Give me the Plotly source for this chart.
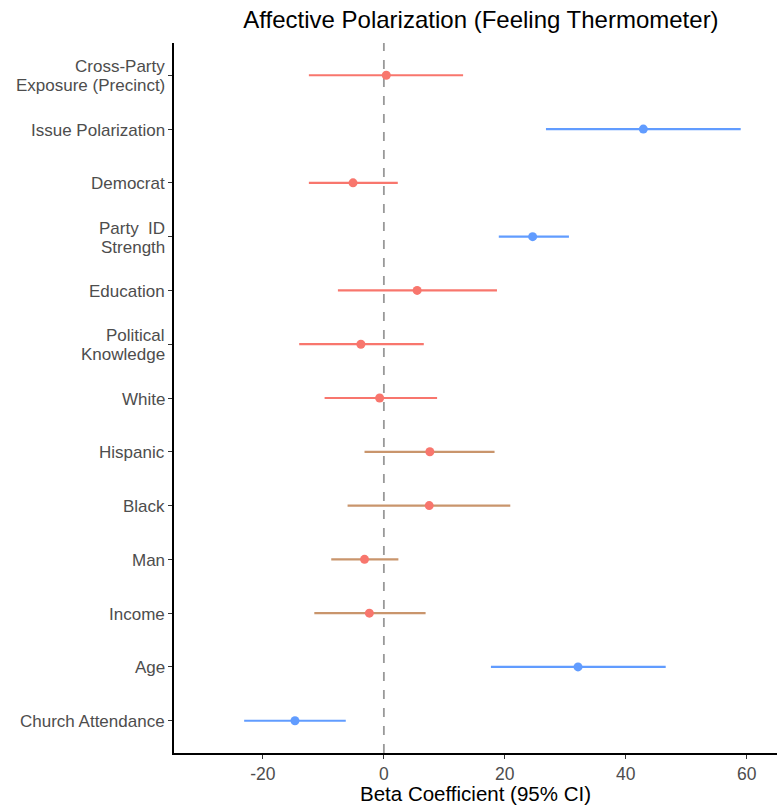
import plotly.graph_objects as go

categories = ["Church Attendance", "Age", "Income", "Man", "Black", "Hispanic", "White",
              "Political<br>Knowledge", "Education", "Party  ID<br>Strength", "Democrat",
              "Issue Polarization", "Cross-Party<br>Exposure (Precinct)"]
estimate = [-14.7, 32.1, -2.4, -3.2, 7.5, 7.6, -0.7, -3.8, 5.5, 24.6, -5.1, 42.9, 0.4]
ci_low = [-23.1, 17.7, -11.5, -8.7, -6.0, -3.2, -9.8, -14.0, -7.6, 19.0, -12.4, 26.8, -12.4]
ci_high = [-6.3, 46.6, 6.9, 2.4, 20.9, 18.3, 8.8, 6.6, 18.7, 30.6, 2.3, 59.0, 13.1]
group = ["blue", "blue", "brown", "brown", "brown", "brown", "red",
         "red", "red", "blue", "red", "blue", "red"]
x_ticks = [-20, 0, 20, 40, 60]
x_tick_labels = ["-20", "0", "20", "40", "60"]

line_colors = {"red": "#F8766D", "blue": "#619CFF", "brown": "#C9956C"}
point_colors = {"red": "#F8766D", "blue": "#619CFF", "brown": "#F8766D"}

FONT = "Liberation Sans, Arial, sans-serif"
fig = go.Figure()
ypos = list(range(1, len(categories) + 1))

# zero reference line
fig.add_trace(go.Scatter(x=[0, 0], y=[0.4, 13.6], mode="lines",
                         line=dict(color="#999999", width=1.8, dash="dash"),
                         showlegend=False, hoverinfo="skip"))

for i, cat in enumerate(categories):
    g = group[i]
    fig.add_trace(go.Scatter(x=[ci_low[i], ci_high[i]], y=[ypos[i], ypos[i]], mode="lines",
                             line=dict(color=line_colors[g], width=2.2),
                             showlegend=False, hoverinfo="skip"))
    fig.add_trace(go.Scatter(x=[estimate[i]], y=[ypos[i]], mode="markers",
                             marker=dict(color=point_colors[g], size=9),
                             showlegend=False))

# y tick labels as annotations (tighter line spacing than plotly's default)
annotations = []
for i, cat in enumerate(categories):
    lines = cat.split("<br>")
    n = len(lines)
    for j, ln in enumerate(lines):
        shift = ((n - 1) / 2 - j) * 19
        annotations.append(dict(x=0, xref="paper", y=ypos[i], yref="y", text=ln,
                                xanchor="right", yanchor="middle", xshift=-7, yshift=shift - 1,
                                showarrow=False, font=dict(family=FONT, size=17, color="#4D4D4D")))

fig.update_layout(
    width=777, height=805,
    margin=dict(l=174, r=0, t=43, b=52),
    paper_bgcolor="white", plot_bgcolor="white",
    font=dict(family=FONT, color="#4D4D4D"),
    annotations=annotations,
    title=dict(text="Affective Polarization (Feeling Thermometer)",
               x=0.619, xanchor="center", y=0.976, yanchor="middle",
               font=dict(size=24, color="black")),
    xaxis=dict(range=[-34.7, 65], tickvals=x_ticks, ticktext=x_tick_labels,
               showgrid=False, zeroline=False, showline=True, linecolor="black", linewidth=1.8,
               ticks="outside", ticklen=4, tickcolor="#333333", tickwidth=1.2,
               tickfont=dict(size=17.5, color="#4D4D4D"),
               title=dict(text="Beta Coefficient (95% CI)", font=dict(size=20.5, color="black"), standoff=0)),
    yaxis=dict(range=[0.4, 13.6], tickvals=ypos, ticktext=[""] * len(ypos),
               showgrid=False, zeroline=False, showline=True, linecolor="black", linewidth=1.8,
               ticks="outside", ticklen=4, tickcolor="#333333", tickwidth=1.2),
)

fig.write_html("out.html")
